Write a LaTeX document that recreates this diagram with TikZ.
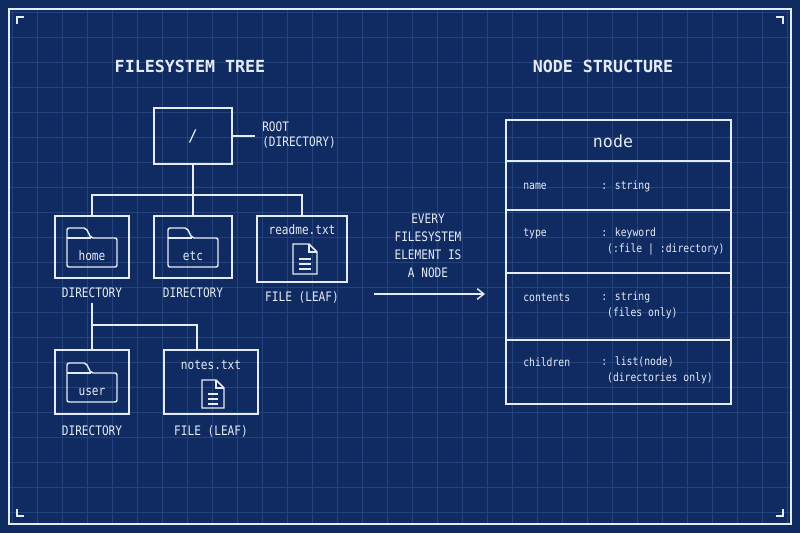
\documentclass[tikz,border=0pt]{standalone}
\usepackage{fontspec}
\setmonofont{DejaVu Sans Mono}
\newfontfamily\cond{DejaVu Sans Mono}[FakeStretch=0.85]
\usetikzlibrary{arrows.meta}
\definecolor{bg}{HTML}{102A62}
\definecolor{ln}{HTML}{E6ECF5}
\definecolor{gr}{HTML}{24427C}
\begin{document}
\begin{tikzpicture}[x=0.75pt,y=-0.75pt,
  box/.style={draw=ln,line width=1.4pt},
  wire/.style={draw=ln,line width=1.4pt},
  txt/.style={text=ln,font=\cond\fontsize{9.8}{11.5}\selectfont,inner sep=0pt},
  ttl/.style={text=ln,font=\ttfamily\bfseries\fontsize{12.5}{14}\selectfont,inner sep=0pt},
  small/.style={text=ln,font=\cond\fontsize{8.6}{12}\selectfont,inner sep=0pt,anchor=west,align=left}]
\fill[bg] (0,0) rectangle (800,533);
\useasboundingbox (0,0) rectangle (800,533);
\foreach \i in {12,37,...,790} \draw[gr,line width=0.4pt] (\i,9) -- (\i,524);
\foreach \j in {12,37,...,524} \draw[gr,line width=0.4pt] (9,\j) -- (791,\j);
\draw[ln,line width=1.2pt] (9,9) rectangle (791,524);
\draw[ln,line width=1pt] (17,24) -- (17,17) -- (24,17);
\draw[ln,line width=1pt] (783,24) -- (783,17) -- (776,17);
\draw[ln,line width=1pt] (17,509) -- (17,516) -- (24,516);
\draw[ln,line width=1pt] (783,509) -- (783,516) -- (776,516);
% titles
\node[ttl] (t1) at (190,66) {FILESYSTEM TREE};
\node[ttl] (t2) at (603,66) {NODE STRUCTURE};
% root
\node[box,minimum width=59pt,minimum height=42pt,inner sep=0pt] (root) at (193,136) {};
\node[text=ln,font=\ttfamily\fontsize{12}{14}\selectfont] at (root) {/};
\coordinate (rl) at (255,136);
\draw[wire] (root.east) -- (rl);
\node[txt,anchor=west,align=left] (rlab) at (262,135) {ROOT\\(DIRECTORY)};
% level 1
\node[box,minimum width=55pt,minimum height=46.5pt,inner sep=0pt] (home) at (92,247) {};
\node[box,minimum width=59pt,minimum height=46.5pt,inner sep=0pt] (etc) at (193,247) {};
\node[box,minimum width=67.5pt,minimum height=49.5pt,inner sep=0pt] (readme) at (302,249) {};
\coordinate (j1) at (193,195);
\draw[wire] (root.south) -- (j1);
\draw[wire] (home.north) |- (j1) -| (readme.north);
\draw[wire] (j1) -- (etc.north);
% folder icons
\foreach \c/\n in {home/home,etc/etc}{
  \begin{scope}[shift={(\c.center)}]
  \draw[ln,line width=1.1pt,rounded corners=1.5pt] (-25,-19) -- (-25,20) -- (25,20) -- (25,-9) -- (-1,-9) -- (-6,-19) -- cycle;
  \draw[ln,line width=0.8pt] (-25,-9) -- (-1,-9);
  \node[txt] at (0,9) {\n};
  \end{scope}}
\node[txt] at (302,230) {readme.txt};
\begin{scope}[shift={(305,259)}]
  \draw[ln,line width=1.1pt] (-12,-15) -- (4,-15) -- (12,-7) -- (12,15) -- (-12,15) -- cycle;
  \draw[ln,line width=1.1pt] (4,-15) -- (4,-7) -- (12,-7);
  \foreach \y in {0,5,10} \draw[ln,line width=0.8pt] (-6,\y) -- (6,\y);
\end{scope}
\node[txt] (l1) at (92,293) {DIRECTORY};
\node[txt] (l2) at (193,293) {DIRECTORY};
\node[txt] (l3) at (302,297) {FILE (LEAF)};
% level 2
\node[box,minimum width=55pt,minimum height=48pt,inner sep=0pt] (user) at (92,382) {};
\node[box,minimum width=70.5pt,minimum height=48pt,inner sep=0pt] (notes) at (211,382) {};
\coordinate (j2) at (92,325);
\coordinate (hs) at (92,303);
\draw[wire] (hs) -- (j2) -- (user.north);
\draw[wire] (j2) -| (197,350);
\begin{scope}[shift={(user.center)}]
  \draw[ln,line width=1.1pt,rounded corners=1.5pt] (-25,-19) -- (-25,20) -- (25,20) -- (25,-9) -- (-1,-9) -- (-6,-19) -- cycle;
  \draw[ln,line width=0.8pt] (-25,-9) -- (-1,-9);
  \node[txt] at (0,10) {user};
\end{scope}
\node[txt] at (211,365) {notes.txt};
\begin{scope}[shift={(213,394)}]
  \draw[ln,line width=1.1pt] (-11,-14) -- (3,-14) -- (11,-6) -- (11,14) -- (-11,14) -- cycle;
  \draw[ln,line width=1.1pt] (3,-14) -- (3,-6) -- (11,-6);
  \foreach \y in {0,5,10} \draw[ln,line width=0.8pt] (-5,\y) -- (5,\y);
\end{scope}
\node[txt] (l4) at (92,431) {DIRECTORY};
\node[txt] (l5) at (211,431) {FILE (LEAF)};
% middle
\node[txt,align=center,font=\cond\fontsize{9.8}{13.5}\selectfont] (mid) at (428,246) {EVERY\\FILESYSTEM\\ELEMENT IS\\A NODE};
\coordinate (a1) at (374,294); \coordinate (a2) at (485,294);
\draw[wire,line width=1.1pt,-{Straight Barb[length=5pt,width=8pt]}] (a1) -- (a2);
% table
\draw[box] (506,120) rectangle (731,404);
\foreach \y in {161,210,273,340} \draw[wire] (506,\y) -- (731,\y);
\node[text=ln,font=\ttfamily\fontsize{12.5}{14}\selectfont,inner sep=0pt] at (613,141) {node};
\node[small] at (523,186) {name};
\node[small] at (601,186) {: string};
\node[small] at (523,234) {type};
\node[small,anchor=north west] at (601,228) {: keyword\\\ (:file | :directory)};
\node[small] at (523,298) {contents};
\node[small,anchor=north west] at (601,292) {: string\\\ (files only)};
\node[small] at (523,362) {children};
\node[small,anchor=north west] at (601,356) {: list(node)\\\ (directories only)};
\end{tikzpicture}
\end{document}
